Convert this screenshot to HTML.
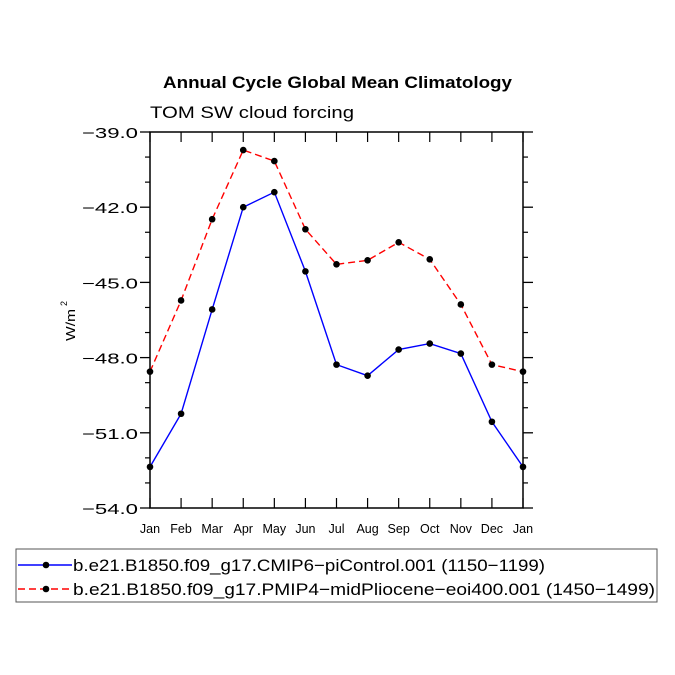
<!DOCTYPE html>
<html><head><meta charset="utf-8"><style>body{margin:0;background:#fff}svg{display:block;font-family:"Liberation Sans",sans-serif}</style></head>
<body>
<svg id="c" width="675" height="675" viewBox="0 0 675 675"></svg>
<script>
const months=["Jan","Feb","Mar","Apr","May","Jun","Jul","Aug","Sep","Oct","Nov","Dec","Jan"];
const piControl=[-52.36,-50.24,-46.08,-42.0,-41.4,-44.56,-48.28,-48.72,-47.68,-47.44,-47.84,-50.56,-52.36];
const midPliocene=[-48.56,-45.72,-42.48,-39.72,-40.16,-42.88,-44.28,-44.12,-43.4,-44.08,-45.88,-48.28,-48.56];
const yTicks=[-39,-42,-45,-48,-51,-54];
const yMinor=[-40,-41,-43,-44,-46,-47,-49,-50,-52,-53];
const x0=150,x1=523,y0=132,y1=508,ymax=-39,ymin=-54;
const X=i=>x0+(x1-x0)*i/(months.length-1);
const Y=v=>y0+(ymax-v)/(ymax-ymin)*(y1-y0);
const svg=document.getElementById('c');const NS='http://www.w3.org/2000/svg';
function mk(t,a,txt){const e=document.createElementNS(NS,t);for(const k in a)e.setAttribute(k,a[k]);if(txt!=null)e.textContent=txt;svg.appendChild(e);return e;}
let e;
e=mk('text',{x:163,y:88,'font-size':17,'font-weight':'bold',textLength:349,lengthAdjust:'spacingAndGlyphs'},'Annual Cycle Global Mean Climatology');


e=mk('text',{x:150,y:118,'font-size':17,textLength:204,lengthAdjust:'spacingAndGlyphs'},'TOM SW cloud forcing');


e=mk('rect',{x:x0,y:y0,width:x1-x0,height:y1-y0,fill:'none',stroke:'#000','stroke-width':1.5});


yTicks.forEach(v=>{const y=Y(v);
e=mk('line',{x1:x0-10,x2:x0,y1:y,y2:y,stroke:'#000','stroke-width':1.3});


mk('line',{x1:x1,x2:x1+10,y1:y,y2:y,stroke:'#000','stroke-width':1.3});
e=mk('text',{x:138,y:y+6,'text-anchor':'end','font-size':15,textLength:56,lengthAdjust:'spacingAndGlyphs'},'\u2212'+Math.abs(v).toFixed(1));

});
yMinor.forEach(v=>{const y=Y(v);mk('line',{x1:x0-5,x2:x0,y1:y,y2:y,stroke:'#000','stroke-width':1.2});mk('line',{x1:x1,x2:x1+5,y1:y,y2:y,stroke:'#000','stroke-width':1.2});});
months.forEach((m,i)=>{const x=X(i);
mk('line',{x1:x,x2:x,y1:y1,y2:y1-10,stroke:'#000','stroke-width':1.2});
mk('line',{x1:x,x2:x,y1:y0,y2:y0+10,stroke:'#000','stroke-width':1.2});
e=mk('text',{x:x,y:y1+25,'text-anchor':'middle','font-size':12.5},m);

});
e=mk('text',{x:0,y:0,'font-size':13,transform:'translate(75,341) rotate(-90)',textLength:32,lengthAdjust:'spacingAndGlyphs'},'W/m');


mk('text',{x:0,y:0,'font-size':9,transform:'translate(67,306) rotate(-90)'},'2');
function series(vals,col,dash,name){
 e=mk('polyline',{points:vals.map((v,i)=>X(i)+','+Y(v)).join(' '),fill:'none',stroke:col,'stroke-width':1.4,'stroke-dasharray':dash});
 
 
 vals.forEach((v,i)=>{e=mk('circle',{cx:X(i),cy:Y(v),r:3.3,fill:'#000'});
 
 });
}
series(midPliocene,'#f00','7,4','midpliocene');
series(piControl,'#00f','none','picontrol');
e=mk('rect',{x:16,y:549,width:641,height:53,fill:'none',stroke:'#555','stroke-width':1});


[['#00f','none','b.e21.B1850.f09_g17.CMIP6\u2212piControl.001 (1150\u22121199)',565,472],['#f00','7,4','b.e21.B1850.f09_g17.PMIP4\u2212midPliocene\u2212eoi400.001 (1450\u22121499)',589,582]].forEach(r=>{
 mk('line',{x1:18,x2:72,y1:r[3],y2:r[3],stroke:r[0],'stroke-width':1.4,'stroke-dasharray':r[1]});
 mk('circle',{cx:46,cy:r[3],r:3.3,fill:'#000'});
 e=mk('text',{x:73,y:r[3]+6,'font-size':17,textLength:r[4],lengthAdjust:'spacingAndGlyphs'},r[2]);
 
 
});
</script>
</body></html>
